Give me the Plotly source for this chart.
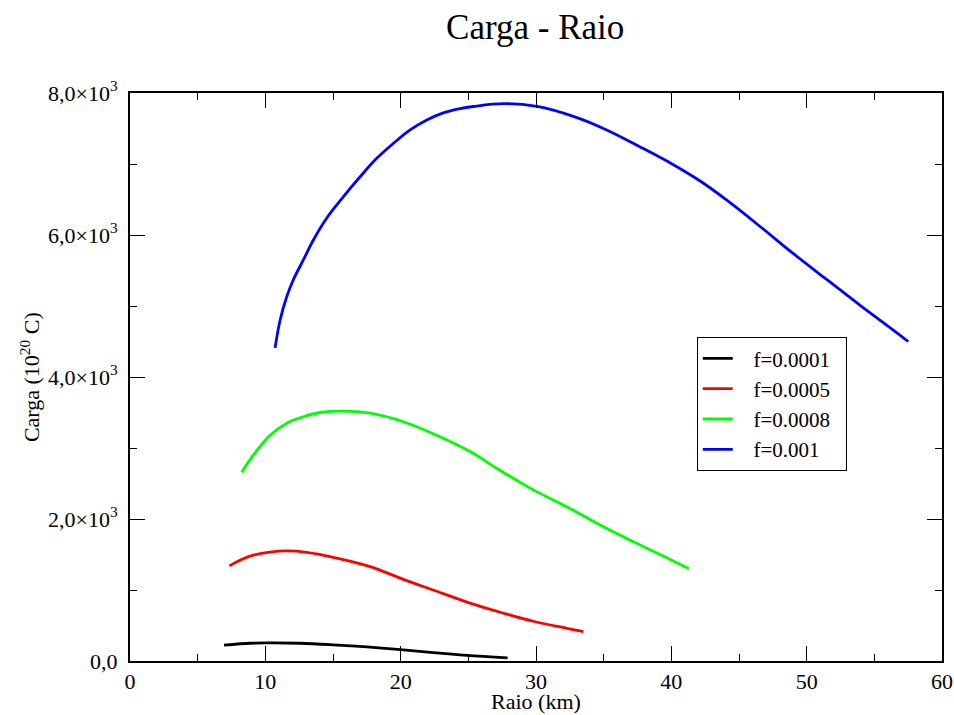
import plotly.graph_objects as go

# f = 0.0001
raio_1 = [6.95, 8.9, 10.1, 12.56, 15.0, 17.5, 20.0, 22.4, 24.9, 27.9]
carga_1 = [225, 250, 255, 250, 228, 198, 160, 118, 80, 45]

# f = 0.0005
raio_5 = [7.34, 8.13, 9.11, 10.35, 11.58, 13.05, 15.27, 17.74, 20.2, 22.4, 24.9, 27.3, 29.8, 32.3, 33.5]
carga_5 = [1340, 1420, 1490, 1535, 1550, 1530, 1450, 1330, 1150, 1000, 830, 690, 560, 460, 415]

# f = 0.0008
raio_8 = [8.25, 9.11, 10.35, 11.58, 12.81, 14.04, 15.77, 17.74, 20.2, 22.66, 25.13, 27.3, 29.8, 32.3, 34.7, 37.2, 39.7, 41.3]
carga_8 = [2660, 2900, 3180, 3350, 3440, 3500, 3520, 3490, 3370, 3180, 2950, 2690, 2410, 2170, 1920, 1680, 1450, 1300]

# f = 0.001
raio_10 = [10.72, 11.09, 11.58, 12.07, 12.81, 13.55, 14.54, 15.77, 17.0, 18.23, 19.46, 20.7, 21.93, 23.15,
           24.39, 25.37, 27.6, 30.06, 32.76, 35.22, 37.7, 40.15, 42.13, 44.1, 46.56, 49.0, 51.5, 53.95, 56.4, 57.5]
carga_10 = [4410, 4800, 5130, 5370, 5650, 5930, 6240, 6540, 6820, 7080, 7290, 7480, 7620, 7720,
            7780, 7810, 7850, 7810, 7670, 7480, 7240, 6990, 6760, 6490, 6120, 5740, 5370, 5010, 4660, 4500]

series = [
    ("f=0.0001", raio_1, carga_1, "black"),
    ("f=0.0005", raio_5, carga_5, "red"),
    ("f=0.0008", raio_8, carga_8, "#00ff00"),
    ("f=0.001", raio_10, carga_10, "blue"),
]

x_ticks = [0, 10, 20, 30, 40, 50, 60]
y_ticks = [0, 2000, 4000, 6000, 8000]
y_labels = ["0,0", "2,0×10<sup>3</sup>", "4,0×10<sup>3</sup>", "6,0×10<sup>3</sup>", "8,0×10<sup>3</sup>"]

FONT = "Liberation Serif"
NBSP = "\u00a0"

fig = go.Figure()
for name, xs, ys, color in series:
    fig.add_trace(go.Scatter(
        x=xs, y=ys, name=NBSP * 3 + name + NBSP * 2, mode="lines",
        line=dict(color=color, width=2.8, shape="spline", smoothing=1.0)
    ))

axis_common = dict(
    showline=True, linecolor="black", linewidth=2, mirror="ticks",
    ticks="inside", ticklen=15, tickwidth=1, tickcolor="black",
    showgrid=False, zeroline=False, automargin=False,
    tickfont=dict(family=FONT, size=22, color="black"),
)

fig.update_xaxes(
    range=[0, 60], tickvals=x_ticks, ticklabelstandoff=0,
    minor=dict(ticks="inside", ticklen=7, dtick=5, tick0=0, tickcolor="black"),
    **axis_common
)
fig.update_yaxes(
    range=[0, 8000], tickvals=y_ticks, ticktext=y_labels, ticklabelstandoff=6,
    minor=dict(ticks="inside", ticklen=7, dtick=1000, tick0=0, tickcolor="black"),
    **axis_common
)

# axis titles as annotations to place them like the original
fig.add_annotation(
    text="Raio (km)", xref="paper", yref="paper", x=0.5, y=-0.071,
    xanchor="center", yanchor="middle", showarrow=False, borderpad=0,
    font=dict(family=FONT, size=22, color="black"),
)
fig.add_annotation(
    text="Carga (10<sup>20</sup> C)", xref="paper", yref="paper", x=-0.123, y=0.5,
    xanchor="center", yanchor="middle", showarrow=False, textangle=-90,
    font=dict(family=FONT, size=22, color="black"),
)

fig.update_layout(
    width=954, height=715,
    margin=dict(l=130, r=12, t=93, b=54),
    paper_bgcolor="white", plot_bgcolor="white",
    title=dict(text="Carga - Raio", x=0.561, xanchor="center", y=0.962, yanchor="middle",
               font=dict(family=FONT, size=35, color="black")),
    legend=dict(x=0.698, y=0.570, xanchor="left", yanchor="top",
                bordercolor="black", borderwidth=1, bgcolor="white",
                font=dict(family=FONT, size=21, color="black"),
                tracegroupgap=0, itemwidth=30),
    showlegend=True,
)

# drop the default 8px body margin so the figure fills the window
fig.write_html("out.html", config={"displayModeBar": False},
               post_script="document.body.style.margin='0px';")
